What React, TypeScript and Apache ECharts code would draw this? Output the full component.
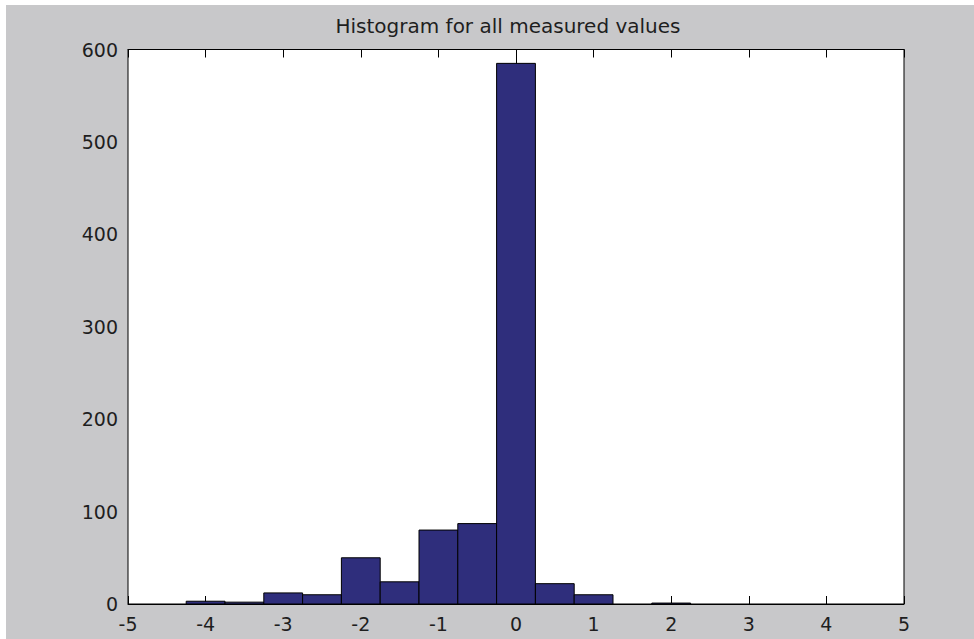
import React, { useEffect, useRef } from "react";
import * as echarts from "echarts";

const titleText = "Histogram for all measured values";
const binCenters = [-4, -3.5, -3, -2.5, -2, -1.5, -1, -0.5, 0, 0.5, 1, 1.5, 2];
const binCounts = [3, 2, 12, 10, 50, 24, 80, 87, 585, 22, 10, 0, 1];
const binWidth = 0.5;
const xMin = -5;
const xMax = 5;
const yMin = 0;
const yMax = 600;

export default function App() {
  const ref = useRef<HTMLDivElement>(null);
  useEffect(() => {
    if (!ref.current) return;
    const chart = echarts.init(ref.current, undefined, { renderer: "svg" });
    const font = "DejaVu Sans";
    const labelStyle = { fontFamily: font, fontSize: 19, color: "#1e1e1e" };
    const baseX = {
      type: "value",
      min: xMin,
      max: xMax,
      interval: 1,
      splitLine: { show: false },
      axisLine: { show: true, onZero: false, lineStyle: { color: "#000", width: 1 } },
      axisTick: { show: true, inside: true, length: 8, lineStyle: { color: "#000" } },
    };
    const baseY = {
      type: "value",
      min: yMin,
      max: yMax,
      interval: 100,
      splitLine: { show: false },
      axisLine: { show: true, lineStyle: { color: "#000", width: 1 } },
      axisTick: { show: true, inside: true, length: 8, lineStyle: { color: "#000" } },
    };
    chart.setOption({
      animation: false,
      backgroundColor: "#c8c8ca",
      grid: {
        left: 122,
        right: 70,
        top: 44.5,
        bottom: 35,
        show: true,
        backgroundColor: "#ffffff",
        borderColor: "#000",
        borderWidth: 1,
      },
      graphic: [
        {
          type: "text",
          x: 502,
          y: 21,
          style: {
            text: titleText,
            fontFamily: font,
            fontSize: 20,
            fill: "#1e1e1e",
            textAlign: "center",
            textVerticalAlign: "middle",
          },
        },
      ],
      xAxis: [
        { ...baseX, position: "bottom", axisLabel: { ...labelStyle, margin: 10 } },
        { ...baseX, position: "top", axisLabel: { show: false } },
      ],
      yAxis: [
        { ...baseY, position: "left", axisLabel: { ...labelStyle, margin: 10 } },
        { ...baseY, position: "right", axisLabel: { show: false } },
      ],
      series: [
        {
          type: "custom",
          xAxisIndex: 0,
          yAxisIndex: 0,
          encode: { x: 0, y: 1 },
          data: binCenters.map((c, i) => [c, binCounts[i]]),
          renderItem: (params: any, api: any) => {
            const c = api.value(0);
            const v = api.value(1);
            if (!v) return null;
            const p0 = api.coord([c - binWidth / 2, v]);
            const p1 = api.coord([c + binWidth / 2, 0]);
            return {
              type: "rect",
              shape: { x: p0[0], y: p0[1], width: p1[0] - p0[0], height: p1[1] - p0[1] },
              style: { fill: "#2f2e7c", stroke: "#000", lineWidth: 1 },
            };
          },
        },
      ],
    });
    return () => chart.dispose();
  }, []);
  return (
    <div style={{ position: "fixed", left: 0, top: 0, width: 974, height: 639, background: "#ffffff" }}>
      <div ref={ref} style={{ position: "absolute", left: 6, top: 5, width: 968, height: 634 }} />
    </div>
  );
}
